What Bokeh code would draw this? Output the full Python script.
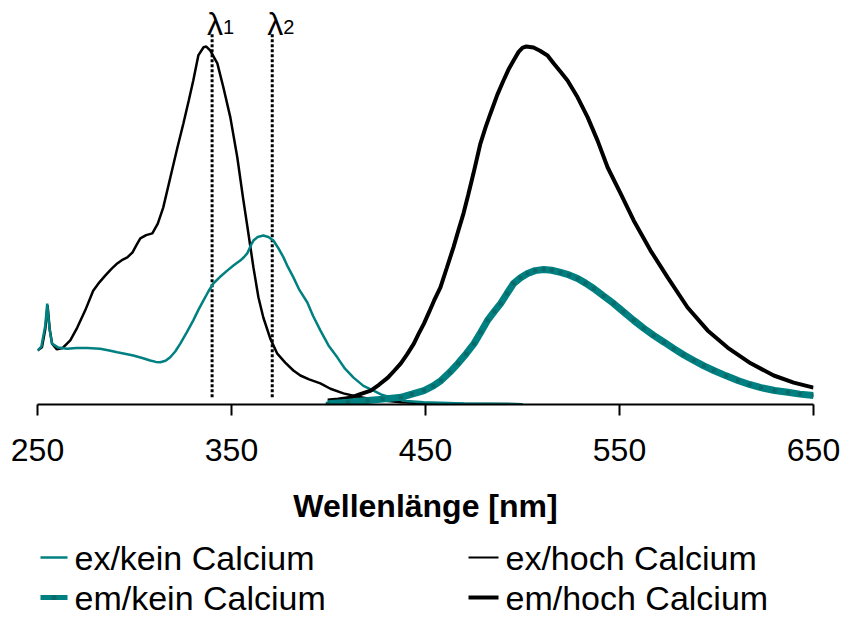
from bokeh.plotting import figure
from bokeh.layouts import column
from bokeh.models import Range1d, FixedTicker, ColumnDataSource
from bokeh.core.properties import value
from bokeh.embed import file_html
from bokeh.resources import INLINE

# ---------------- data ----------------
x_ticks = [250, 350, 450, 550, 650]

ex_hoch_nm = [250, 252.3, 254, 255.2, 256.3, 257.5, 260, 263, 266.9, 270.5, 274.6, 278.7, 282,
              284.9, 288, 291.1, 294, 296.3, 299, 301, 303, 306, 309.2, 312, 314.8, 318.5, 322,
              325.2, 328, 330.3, 332.9, 335.6, 337, 339, 342.7, 345.8, 349.4, 353, 356, 358.1,
              361.3, 363.9, 366.4, 370, 373.6, 377.7, 381.9, 385.5, 390, 395.8, 401, 407.7,
              414, 420.1, 428, 437.3, 450, 465, 500]
ex_hoch_v = [15.1, 16.0, 21.0, 27.7, 21.0, 17.0, 15.4, 15.8, 17.9, 21.5, 26.3, 31.8, 34.2,
             36.0, 37.8, 39.4, 40.5, 41.1, 42.5, 44.5, 46.4, 47.3, 47.8, 50.5, 55.0, 63.5, 71.5,
             78.5, 85.0, 90.5, 97.5, 99.8, 100.0, 98.9, 95.3, 88.6, 80.2, 69.0, 57.5, 50.0,
             38.3, 29.9, 24.3, 18.4, 14.2, 11.7, 9.5, 8.1, 7.0, 5.9, 4.4, 3.1,
             2.3, 1.7, 1.1, 0.6, 0.35, 0.2, 0.1]

ex_kein_nm = [250, 252, 254, 255, 256.2, 257.5, 260.7, 265.3, 270, 275.6, 282.3, 287, 291.1,
              295, 299.4, 304, 308.1, 311, 313.3, 316, 318.4, 321, 323.6, 327, 330.3, 333,
              335.5, 338, 340.6, 344, 347.8, 351, 354.5, 356.5, 358.1, 360, 361.3, 363.5,
              366.4, 369, 371.6, 374, 376.8, 379, 381.9, 385, 389.1, 392, 395.8, 400, 404.6,
              408.5, 412.9, 418, 423.2, 427, 432, 440, 449, 470, 500]
ex_kein_v = [15.1, 16.2, 22.0, 28.2, 21.0, 17.0, 15.9, 15.6, 15.8, 15.8, 15.6, 15.1, 14.6,
             14.2, 13.7, 13.0, 12.3, 11.9, 11.8, 12.2, 13.2, 14.8, 17.0, 20.2, 23.5, 26.5,
             29.0, 31.5, 33.8, 35.6, 37.4, 38.8, 40.2, 41.2, 42.2, 44.5, 45.8, 46.8,
             47.2, 46.8, 45.8, 43.8, 41.1, 38.5, 35.5, 32.0, 28.5, 24.8, 20.7, 16.5, 13.1,
             10.0, 7.5, 5.2, 3.9, 2.8, 2.0, 1.0, 0.6, 0.25, 0.1]

em_hoch_nm = [399.6, 405, 411.5, 416, 421.8, 426, 430.6, 434, 437.3, 440.5, 444, 446.5, 449.2,
              452, 454.4, 457.7, 461, 464.4, 467, 469.6, 472, 474.7, 478.3, 481, 483.5, 487,
              490.2, 493, 495.4, 498, 500.1, 502, 505.7, 509, 512.9, 516, 519.5, 523.2, 528.4,
              533.6, 538.7, 543.9, 550.6, 557.3, 566, 574.8, 585.1, 595.4, 605.7, 617.6,
              629.5, 639.8, 650]
em_hoch_v = [1.1, 1.4, 1.9, 2.8, 3.9, 5.5, 7.5, 9.5, 11.5, 14.0, 17.0, 19.8, 22.6,
             26.0, 29.0, 32.7, 38.2, 43.9, 48.7, 53.4, 58.5, 64.5, 72.9, 77.5, 81.3, 86.5,
             90.5, 93.8, 96.1, 98.5, 99.7, 100.0, 99.7, 98.8, 97.5, 95.3, 93.0, 90.5, 85.8,
             80.2, 73.7, 66.2, 58.9, 51.4, 43.0, 35.5, 27.1, 20.7, 15.9, 11.5,
             8.1, 6.1, 4.7]

em_kein_nm = [399.6, 410, 420.2, 428, 437.3, 443, 449.2, 454, 458, 462.5, 466.8, 471, 475,
              478.5, 482, 485.5, 488.7, 492, 495.4, 499, 502.6, 506.5, 510.9, 515, 519.6, 524,
              528.4, 532.5, 536.7, 541.8, 547, 552, 557.3, 562.5, 567.6, 573, 578, 583, 588.3,
              593.5, 598.6, 605, 611, 617, 622.9, 630, 636.8, 643, 650]
em_kein_v = [0.2, 0.6, 1.1, 1.5, 2.0, 2.9, 3.9, 5.2, 6.7, 9.0, 11.5, 14.2, 17.0,
             20.2, 23.5, 26.0, 28.2, 31.0, 33.8, 35.4, 36.6, 37.4, 37.7, 37.5, 36.9, 36.2,
             35.2, 33.9, 32.4, 30.3, 28.2, 25.9, 23.5, 21.3, 19.3, 17.4, 15.6, 13.9, 12.3,
             10.8, 9.5, 8.0, 6.7, 5.6, 4.7, 3.9, 3.4, 2.9, 2.5]

lambda_nm = [340, 371]
lambda_main = ["λ", "λ"]
lambda_sub = ["1", "2"]

series_labels = ["ex/kein Calcium", "em/kein Calcium", "ex/hoch Calcium", "em/hoch Calcium"]

# ---------------- styling ----------------
TEAL = "#008080"
FONT = "Liberation Sans"
Y_TOP = 112.85
DOT_Y0, DOT_Y1 = 2.0, 103.5
series_colors = [TEAL, TEAL, "black", "black"]
series_widths = [2.5, 5, 2, 4]
FRAME_L, FRAME_W, FRAME_R = 37, 776, 29
FRAME_H = 404
AXIS_H = 132
LEG_H = 617 - FRAME_H - AXIS_H

p = figure(frame_width=FRAME_W, frame_height=FRAME_H,
           x_range=Range1d(250, 650), y_range=Range1d(0, Y_TOP),
           y_axis_location=None,
           output_backend="svg", toolbar_location=None,
           min_border_left=FRAME_L, min_border_right=FRAME_R, min_border_top=0,
           min_border_bottom=AXIS_H)
p.grid.visible = False
p.outline_line_color = None
p.background_fill_color = "white"
p.border_fill_color = "white"

xa = p.xaxis[0]
xa.ticker = FixedTicker(ticks=x_ticks)
xa.minor_tick_line_color = None
xa.major_tick_in = 0
xa.major_tick_out = 11
xa.major_tick_line_width = 2
xa.axis_line_width = 2
xa.major_label_text_font = FONT
xa.major_label_text_font_size = "32px"
xa.major_label_text_color = "black"
xa.major_label_standoff = 23
xa.axis_label = "Wellenlänge [nm]"
xa.axis_label_text_font = FONT
xa.axis_label_text_font_style = "bold"
xa.axis_label_text_font_size = "32px"
xa.axis_label_text_color = "black"
xa.axis_label_standoff = 24

# dotted marker lines
p.segment(x0=lambda_nm, x1=lambda_nm, y0=[DOT_Y0] * len(lambda_nm), y1=[DOT_Y1] * len(lambda_nm),
          line_color="black", line_width=3, line_dash="3 2")

src = ColumnDataSource(dict(x=lambda_nm, y=[Y_TOP] * len(lambda_nm), t=lambda_main, s=lambda_sub))
p.text(x="x", y="y", text="t", source=src, text_font=value(FONT), text_font_size="32px",
       text_align="center", text_baseline="alphabetic", x_offset=3, y_offset=23, text_color="black")
p.text(x="x", y="y", text="s", source=src, text_font=value(FONT), text_font_size="20px",
       text_align="left", text_baseline="alphabetic", x_offset=11, y_offset=26, text_color="black")

p.line(ex_hoch_nm, ex_hoch_v, line_color="black", line_width=2.5)
p.line(ex_kein_nm, ex_kein_v, line_color=TEAL, line_width=2.5)
p.line(em_hoch_nm, em_hoch_v, line_color="black", line_width=4)
p.line(em_kein_nm, em_kein_v, line_color=TEAL, line_width=7)
p.scatter(em_kein_nm, em_kein_v, marker="square", size=4, fill_color="#0a6a6a", line_color=None)

# ---------------- legend (separate strip below the chart, frame aligned with chart) ----------------
leg = figure(frame_width=FRAME_W, frame_height=LEG_H,
             x_range=Range1d(FRAME_L, FRAME_L + FRAME_W), y_range=Range1d(LEG_H, 0),
             x_axis_location=None, y_axis_location=None,
             output_backend="svg", toolbar_location=None,
             min_border_left=FRAME_L, min_border_right=FRAME_R, min_border_top=0, min_border_bottom=0)
leg.grid.visible = False
leg.outline_line_color = None
leg.background_fill_color = "white"
leg.border_fill_color = "white"

col_x = [40, 40, 468, 468]
row_y = [21, 61, 21, 61]
GLYPH_W = [27, 27, 30, 30]
for i, lab in enumerate(series_labels):
    leg.segment(x0=[col_x[i]], x1=[col_x[i] + GLYPH_W[i]], y0=[row_y[i]], y1=[row_y[i]],
                line_color=series_colors[i], line_width=series_widths[i])
    leg.text(x=[col_x[i] + GLYPH_W[i] + 7], y=[row_y[i]], text=[lab], text_font=value(FONT),
             text_font_size="34px", text_baseline="middle", text_align="left", text_color="black")
leg.scatter(x=[col_x[1] + GLYPH_W[1] / 2], y=[row_y[1]], marker="square", size=5,
            fill_color="#0a6a6a", line_color=None)

layout = column(p, leg, spacing=0)
open("out.html", "w").write(file_html(layout, INLINE))
